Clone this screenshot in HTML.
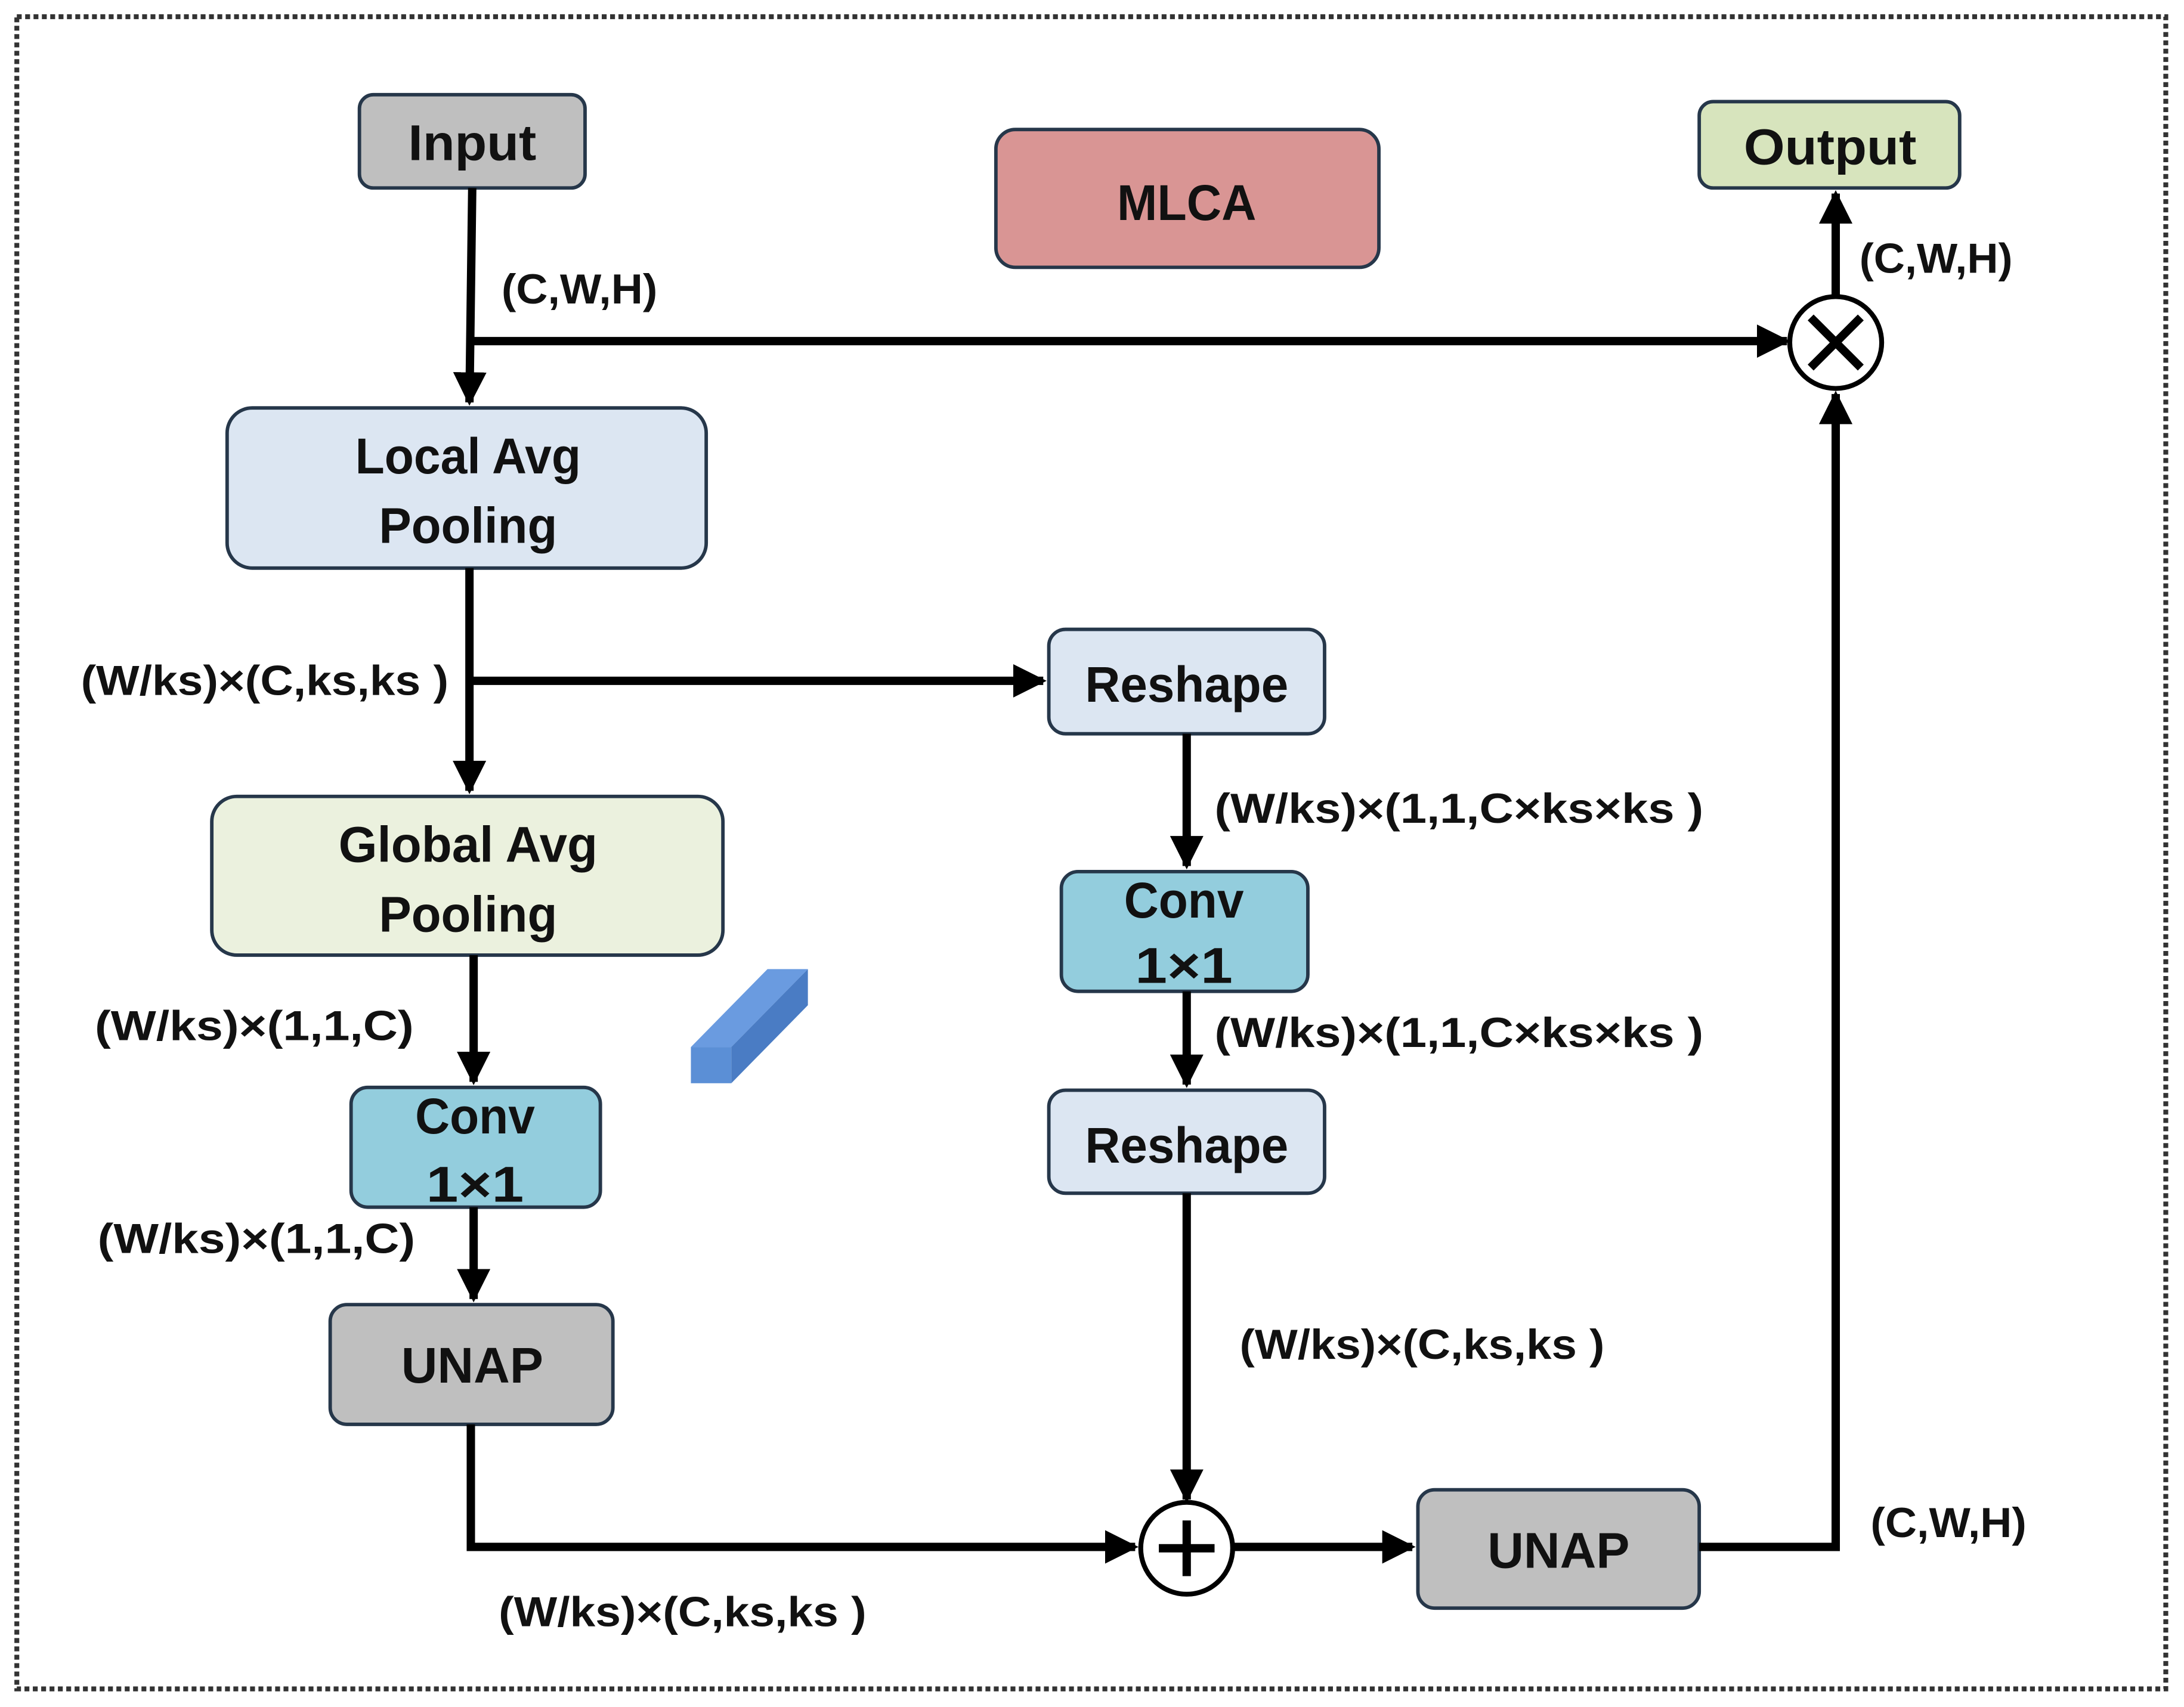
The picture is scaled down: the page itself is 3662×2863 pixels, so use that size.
<!DOCTYPE html>
<html><head><meta charset="utf-8"><style>html,body{margin:0;padding:0;background:#fff}svg{display:block}</style></head><body>
<svg width="3662" height="2863" viewBox="0 0 1568 1226" xmlns="http://www.w3.org/2000/svg">
<defs>
<marker id="a" markerWidth="4" markerHeight="4" refX="3.6" refY="2" orient="auto" markerUnits="strokeWidth"><path d="M0,0 L4,2 L0,4 z" fill="#000"/></marker>
</defs>
<rect x="12" y="12" width="1543" height="1201" fill="none" stroke="#333" stroke-width="3.5" stroke-dasharray="3.5,2.5"/>
<g stroke="#26374a" stroke-width="2.5">
<rect x="258" y="68" width="162" height="67" rx="10" fill="#bfbfbf"/>
<rect x="715" y="93" width="275" height="99" rx="14" fill="#d99594"/>
<rect x="1220" y="73" width="187" height="62" rx="10" fill="#d7e4bd"/>
<rect x="163" y="293" width="344" height="115" rx="18" fill="#dce6f2"/>
<rect x="753" y="452" width="198" height="75" rx="12" fill="#dce6f2"/>
<rect x="762" y="626" width="177" height="86" rx="12" fill="#93cddd"/>
<rect x="753" y="783" width="198" height="74" rx="12" fill="#dce6f2"/>
<rect x="152" y="572" width="367" height="114" rx="18" fill="#ebf1de"/>
<rect x="252" y="781" width="179" height="86" rx="12" fill="#93cddd"/>
<rect x="237" y="937" width="203" height="86" rx="12" fill="#bfbfbf"/>
<rect x="1018" y="1070" width="202" height="85" rx="12" fill="#bfbfbf"/>
</g>
<g fill="none" stroke="#000" stroke-width="6">
<path d="M339 135 L337 289" marker-end="url(#a)"/>
<path d="M339 245 L1283 245" marker-end="url(#a)"/>
<path d="M337 408 L337 568" marker-end="url(#a)"/>
<path d="M337 489 L749 489" marker-end="url(#a)"/>
<path d="M852 527 L852 622" marker-end="url(#a)"/>
<path d="M852 712 L852 779" marker-end="url(#a)"/>
<path d="M852 857 L852 1077" marker-end="url(#a)"/>
<path d="M340 686 L340 777" marker-end="url(#a)"/>
<path d="M340 867 L340 933" marker-end="url(#a)"/>
<path d="M338 1023 L338 1111 L815 1111" marker-end="url(#a)"/>
<path d="M885 1111 L1014 1111" marker-end="url(#a)"/>
<path d="M1220 1111 L1318 1111 L1318 283" marker-end="url(#a)"/>
<path d="M1318 212 L1318 139" marker-end="url(#a)"/>
</g>
<circle cx="1318" cy="246" r="33" fill="#fff" stroke="#000" stroke-width="3.5"/>
<path d="M1300 228 L1336 264 M1336 228 L1300 264" stroke="#000" stroke-width="6"/>
<circle cx="852" cy="1112" r="33" fill="#fff" stroke="#000" stroke-width="3.5"/>
<path d="M852 1092 L852 1132 M832 1112 L872 1112" stroke="#000" stroke-width="6"/>
<polygon points="496,752 551,696 580,696 525,752" fill="#6a9be0"/>
<polygon points="525,752 580,696 580,722 525,778" fill="#4a7cc4"/>
<rect x="496" y="752" width="29" height="26" fill="#5b8fd6"/>
<g font-family="Liberation Sans, sans-serif" font-weight="bold" fill="#111" text-anchor="middle" font-size="36">
<text x="339" y="115" textLength="92" lengthAdjust="spacingAndGlyphs">Input</text>
<text x="852" y="158" textLength="100" lengthAdjust="spacingAndGlyphs">MLCA</text>
<text x="1314" y="118" textLength="124" lengthAdjust="spacingAndGlyphs">Output</text>
<text x="336" y="340" textLength="162" lengthAdjust="spacingAndGlyphs">Local Avg</text>
<text x="336" y="390" textLength="128" lengthAdjust="spacingAndGlyphs">Pooling</text>
<text x="852" y="504" textLength="146" lengthAdjust="spacingAndGlyphs">Reshape</text>
<text x="850" y="659" textLength="86" lengthAdjust="spacingAndGlyphs">Conv</text>
<text x="850" y="706" textLength="70" lengthAdjust="spacingAndGlyphs">1×1</text>
<text x="852" y="835" textLength="146" lengthAdjust="spacingAndGlyphs">Reshape</text>
<text x="336" y="619" textLength="186" lengthAdjust="spacingAndGlyphs">Global Avg</text>
<text x="336" y="669" textLength="128" lengthAdjust="spacingAndGlyphs">Pooling</text>
<text x="341" y="814" textLength="86" lengthAdjust="spacingAndGlyphs">Conv</text>
<text x="341" y="863" textLength="70" lengthAdjust="spacingAndGlyphs">1×1</text>
<text x="339" y="993" textLength="102" lengthAdjust="spacingAndGlyphs">UNAP</text>
<text x="1119" y="1126" textLength="102" lengthAdjust="spacingAndGlyphs">UNAP</text>
</g>
<g font-family="Liberation Sans, sans-serif" font-weight="bold" fill="#111" font-size="30">
<text x="360" y="218" textLength="112" lengthAdjust="spacingAndGlyphs">(C,W,H)</text>
<text x="58" y="499" textLength="264" lengthAdjust="spacingAndGlyphs">(W/ks)×(C,ks,ks )</text>
<text x="872" y="591" textLength="351" lengthAdjust="spacingAndGlyphs">(W/ks)×(1,1,C×ks×ks )</text>
<text x="872" y="752" textLength="351" lengthAdjust="spacingAndGlyphs">(W/ks)×(1,1,C×ks×ks )</text>
<text x="890" y="976" textLength="262" lengthAdjust="spacingAndGlyphs">(W/ks)×(C,ks,ks )</text>
<text x="68" y="747" textLength="229" lengthAdjust="spacingAndGlyphs">(W/ks)×(1,1,C)</text>
<text x="70" y="900" textLength="228" lengthAdjust="spacingAndGlyphs">(W/ks)×(1,1,C)</text>
<text x="358" y="1168" textLength="264" lengthAdjust="spacingAndGlyphs">(W/ks)×(C,ks,ks )</text>
<text x="1343" y="1104" textLength="112" lengthAdjust="spacingAndGlyphs">(C,W,H)</text>
<text x="1335" y="196" textLength="110" lengthAdjust="spacingAndGlyphs">(C,W,H)</text>
</g>
</svg>
</body></html>
